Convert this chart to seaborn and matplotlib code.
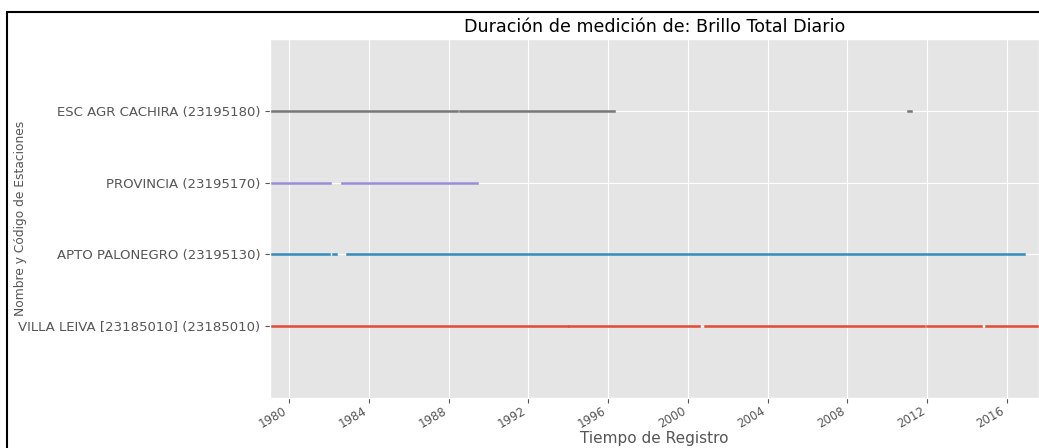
import matplotlib
matplotlib.use("Agg")
import matplotlib.pyplot as plt
import matplotlib.dates as mdates
from matplotlib.patches import Rectangle
import seaborn as sns
import pandas as pd

# estaciones (de abajo hacia arriba) y sus periodos con registro
estaciones = [
    "VILLA LEIVA [23185010] (23185010)",
    "APTO PALONEGRO (23195130)",
    "PROVINCIA (23195170)",
    "ESC AGR CACHIRA (23195180)",
]
colores = ["#E24A33", "#348ABD", "#988ED5", "#777777"]

villa_leiva = [("1979-01-15", "1993-12-25"), ("1994-01-20", "2000-07-20"),
               ("2000-11-10", "2011-11-10"), ("2011-12-25", "2014-09-05"),
               ("2014-12-10", "2017-08-10")]
palonegro = [("1979-01-15", "1982-01-05"), ("1982-03-15", "1982-05-10"),
             ("1982-12-01", "2016-11-01")]
provincia = [("1979-01-15", "1982-01-20"), ("1982-08-25", "1989-06-10")]
cachira = [("1979-01-15", "1988-06-10"), ("1988-08-01", "1996-04-15"),
           ("2011-01-20", "2011-03-10")]
periodos = [villa_leiva, palonegro, provincia, cachira]

xmin, xmax = "1979-01-15", "2017-08-10"

filas = []
for i, (est, tramos) in enumerate(zip(estaciones, periodos)):
    for j, (ini, fin) in enumerate(tramos):
        for f in (ini, fin):
            filas.append({"estacion": est, "tramo": f"{i}-{j}",
                          "fecha": pd.Timestamp(f), "pos": i + 1})
df = pd.DataFrame(filas)

plt.style.use("ggplot")
fig = plt.figure(figsize=(10.39, 4.48), dpi=100)
ax = fig.add_axes([270 / 1039, 1 - 398 / 448, (1039 - 270) / 1039, (398 - 39) / 448])

sns.lineplot(data=df, x="fecha", y="pos", hue="estacion", units="tramo",
             estimator=None, palette=dict(zip(estaciones, colores)),
             hue_order=estaciones, legend=False, lw=1.8, ax=ax)

ax.set_xlim(pd.Timestamp(xmin), pd.Timestamp(xmax))
ax.set_ylim(0, 5)
ax.set_yticks(range(1, len(estaciones) + 1))
ax.set_yticklabels(estaciones, fontsize=9.55)
ax.xaxis.set_major_locator(mdates.YearLocator(4))
ax.xaxis.set_major_formatter(mdates.DateFormatter("%Y"))
ax.tick_params(axis="x", pad=1)
for lab in ax.get_xticklabels():
    lab.set_rotation(30)
    lab.set_ha("right")
    lab.set_fontsize(8.5)

ax.set_title("Duración de medición de: Brillo Total Diario", fontsize=12.6, color="black", pad=5)
ax.set_xlabel("Tiempo de Registro", fontsize=11, labelpad=0)
ax.set_ylabel("Nombre y Código de Estaciones", fontsize=8.8)
ax.yaxis.set_label_coords(-0.3156, 0.5)

# marco negro alrededor de la figura
fig.add_artist(Rectangle((7 / 1039, -0.1), 1.2, 1 - 12 / 448 + 0.1, transform=fig.transFigure,
                         fill=False, edgecolor="black", lw=1.5, clip_on=False))

fig.savefig("out.png", dpi=100)
